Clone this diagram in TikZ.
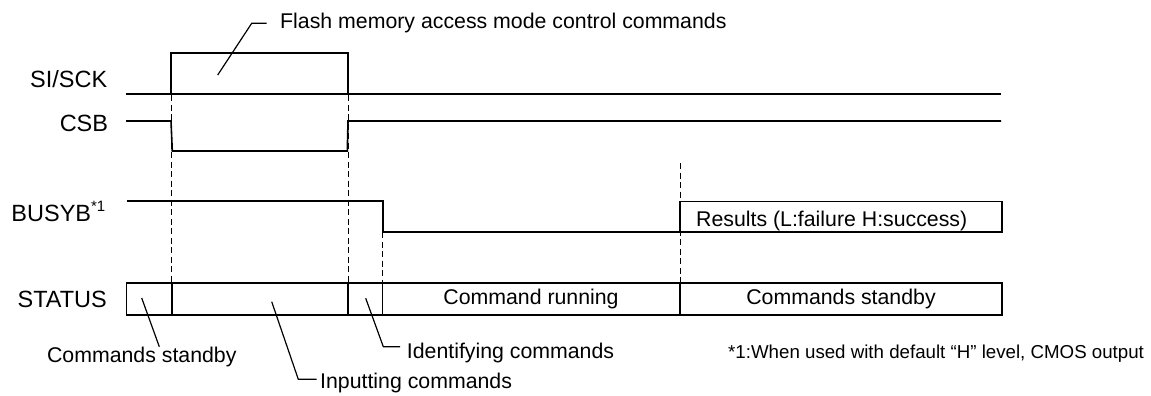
\documentclass[tikz,border=0pt]{standalone}
\usepackage{fontspec}
\setmainfont{Liberation Sans}
\begin{document}
\begin{tikzpicture}[x=1pt,y=-1pt,
  sig/.style={line width=1.6pt},
  leader/.style={line width=1.2pt},
  guide/.style={line width=0.9pt,dash pattern=on 6pt off 3.5pt},
  lbl/.style={inner sep=0pt,font=\fontsize{23.5}{23.5}\selectfont},
  txt/.style={inner sep=0pt,font=\fontsize{21.3}{21.3}\selectfont},
  note/.style={inner sep=0pt,font=\fontsize{18.7}{18.7}\selectfont}]
\useasboundingbox (0,0) rectangle (1151,396);
% labels
\node[lbl,anchor=base east] (lsi) at (107.5,87.3) {SI/SCK};
\node[lbl,anchor=base east] (lcsb) at (108.3,131.7) {CSB};
\node[lbl,anchor=base east] (lbusy) at (105.5,221.7) {BUSYB\raisebox{10pt}{\fontsize{15}{15}\selectfont *1}};
\node[lbl,anchor=base east] (lstat) at (107,307.3) {STATUS};
% SI/SCK
\draw[sig] (126,94) -- (1001,94);
\draw[sig] (171,94) -- (171,53.3) -- (348,53.3) -- (348,94);
% CSB
\draw[sig] (126,121) -- (171,121) -- (172.3,151) -- (347.3,151) -- (348,121) -- (1001,121);
% BUSYB
\draw[sig] (126.5,201) -- (382.7,201) -- (382.7,231.7) -- (680,231.7);
\draw[sig] (680,201.5) rectangle (1002,231.7);
\node[txt,anchor=base west] (res) at (696,226.5) {Results (L:failure H:success)};
% STATUS
\draw[sig] (126.5,283) rectangle (1002,315);
\foreach \x in {171.7,347.7,382.5,680} \draw[sig] (\x,283) -- (\x,315);
\node[txt,anchor=base] (run) at (531,304) {Command running};
\node[txt,anchor=base] (stb) at (841,304) {Commands standby};
% guides
\draw[guide] (171,95) -- (171,283);
\draw[guide] (348,95) -- (348,283);
\draw[guide] (382.7,232) -- (382.7,283);
\draw[guide] (680,163) -- (680,283);
% annotations
\node[txt,anchor=base west] (flash) at (280,28.3) {Flash memory access mode control commands};
\draw[leader] (266.7,23.3) -- (251.7,23.3) -- (217.7,75);
\node[txt,anchor=base east] (cs) at (236.7,362) {Commands standby};
\draw[leader] (141.7,298) -- (159.3,346.7);
\node[txt,anchor=base west] (inp) at (320,388) {Inputting commands};
\draw[leader] (271.7,301.7) -- (298.3,379.3) -- (316.7,379.3);
\node[txt,anchor=base west] (idf) at (406.7,358.3) {Identifying commands};
\draw[leader] (365.7,298.3) -- (383.3,346.7) -- (400,346.7);
\node[note,anchor=base west] (fn) at (728,358.3) {*1:When used with default “H” level, CMOS output};
\end{tikzpicture}
\end{document}
